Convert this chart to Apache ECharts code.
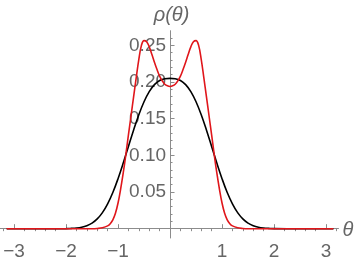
<!DOCTYPE html>
<html>
<head>
<meta charset="utf-8">
<script src="https://cdn.jsdelivr.net/npm/echarts@6/dist/echarts.min.js"></script>
<style>html,body{margin:0;padding:0;background:#fff}#c{width:360px;height:257px}</style>
</head>
<body>
<div id="c"></div>
<script>
// theta samples and densities
const thetaBlack = [-3.1416,-2.5,-2.0,-1.9,-1.8,-1.7,-1.6,-1.5,-1.4,-1.3,-1.2,-1.1,-1.0,-0.9,-0.8,-0.7,-0.6,-0.5,-0.4,-0.3,-0.2,-0.1,0,0.1,0.2,0.3,0.4,0.5,0.6,0.7,0.8,0.9,1.0,1.1,1.2,1.3,1.4,1.5,1.6,1.7,1.8,1.9,2.0,2.5,3.1416];
const rhoBlack = [0,0,0.0001,0.0004,0.0009,0.0020,0.0041,0.0076,0.0133,0.0219,0.0339,0.0493,0.0682,0.0895,0.1122,0.1346,0.1554,0.1731,0.1869,0.1964,0.2021,0.2045,0.2050,0.2045,0.2021,0.1964,0.1869,0.1731,0.1554,0.1346,0.1122,0.0895,0.0682,0.0493,0.0339,0.0219,0.0133,0.0076,0.0041,0.0020,0.0009,0.0004,0.0001,0,0];
const thetaRed = [-3.1416,-2.5,-2.0,-1.5,-1.4,-1.3,-1.2,-1.15,-1.1,-1.05,-1.0,-0.95,-0.9,-0.85,-0.8,-0.75,-0.7,-0.65,-0.6,-0.55,-0.5,-0.45,-0.4,-0.35,-0.3,-0.25,-0.2,-0.15,-0.1,-0.05,0,0.05,0.1,0.15,0.2,0.25,0.3,0.35,0.4,0.45,0.5,0.55,0.6,0.65,0.7,0.75,0.8,0.85,0.9,0.95,1.0,1.05,1.1,1.15,1.2,1.3,1.4,1.5,2.0,2.5,3.1416];
const rhoRed = [0,0,0,0,0.0003,0.0012,0.0038,0.0068,0.012,0.021,0.035,0.054,0.076,0.101,0.128,0.154,0.180,0.206,0.231,0.250,0.2565,0.255,0.248,0.238,0.227,0.217,0.208,0.2015,0.197,0.1948,0.194,0.1948,0.197,0.2015,0.208,0.217,0.227,0.238,0.248,0.255,0.2565,0.250,0.231,0.206,0.180,0.154,0.128,0.101,0.076,0.054,0.035,0.021,0.012,0.0068,0.0038,0.0012,0.0003,0,0,0,0];
const xMajorTicks = [-3,-2,-1,1,2,3];
const yMajorTicks = [0.05,0.10,0.15,0.20,0.25];
const xMinorTicks = [-3.2,-2.8,-2.6,-2.4,-2.2,-1.8,-1.6,-1.4,-1.2,-0.8,-0.6,-0.4,-0.2,0.2,0.4,0.6,0.8,1.2,1.4,1.6,1.8,2.2,2.4,2.6,2.8,3.2];
const yMinorTicks = [0.01,0.02,0.03,0.04,0.06,0.07,0.08,0.09,0.11,0.12,0.13,0.14,0.16,0.17,0.18,0.19,0.21,0.22,0.23,0.24,0.26];
const xTitle = 'θ';
const yTitle = 'ρ(θ)';

const zip = (a,b) => a.map((v,i)=>[v,b[i]]);
const FONT = 'Liberation Sans';
const gray = '#8c8c8c';
const labelColor = '#666666';
const X_MIN = -3.27, X_MAX = 3.24, Y_MIN = -0.0127, Y_MAX = 0.27;
const GRID = {left: 0, right: 21.5, top: 30.7, bottom: 19};
const W = 360, gridW = W - GRID.left - GRID.right;
// place the y axis where theta = 0 (axis offset, negative = inward)
const yOffset = -((0 - X_MIN) / (X_MAX - X_MIN)) * gridW;

const chart = echarts.init(document.getElementById('c'), null, {renderer:'canvas'});
chart.setOption({
  animation: false,
  grid: Object.assign({containLabel: false, outerBoundsMode: 'none'}, GRID),
  xAxis: [{
    type: 'value', min: X_MIN, max: X_MAX,
    axisLine: {onZero: true, onZeroAxisIndex: 0, lineStyle: {color: gray, width: 1}},
    axisTick: {inside: true, length: 4.5, customValues: xMajorTicks, lineStyle: {color: gray}},
    axisLabel: {customValues: xMajorTicks, margin: 4, fontSize: 19, fontFamily: FONT, color: labelColor,
      formatter: v => String(Math.round(v)).replace('-', '\u2212')},
    splitLine: {show: false}
  },{
    type: 'value', min: X_MIN, max: X_MAX,
    axisLine: {show: false, onZero: true, onZeroAxisIndex: 0},
    axisTick: {show: true, inside: true, length: 2.5, customValues: xMinorTicks, lineStyle: {color: gray}},
    axisLabel: {show: false},
    splitLine: {show: false}
  }],
  yAxis: [{
    type: 'value', min: Y_MIN, max: Y_MAX, position: 'left', offset: yOffset,
    axisLine: {onZero: false, lineStyle: {color: gray, width: 1}},
    axisTick: {inside: true, length: 4.5, customValues: yMajorTicks, lineStyle: {color: gray}},
    axisLabel: {customValues: yMajorTicks, margin: 4, fontSize: 19, fontFamily: FONT, color: labelColor,
      formatter: v => v.toFixed(2)},
    splitLine: {show: false}
  },{
    type: 'value', min: Y_MIN, max: Y_MAX, position: 'left', offset: yOffset,
    axisLine: {show: false, onZero: false},
    axisTick: {show: true, inside: true, length: 2.5, customValues: yMinorTicks, lineStyle: {color: gray}},
    axisLabel: {show: false},
    splitLine: {show: false}
  }],
  series: [{
    type: 'line', xAxisIndex: 0, yAxisIndex: 0, data: zip(thetaBlack, rhoBlack),
    showSymbol: false, smooth: 0.4, lineStyle: {color: '#000000', width: 1.6}, z: 3
  },{
    type: 'line', xAxisIndex: 0, yAxisIndex: 0, data: zip(thetaRed, rhoRed),
    showSymbol: false, smooth: 0.4, lineStyle: {color: '#e0161b', width: 1.6}, z: 4
  }]
});

// axis titles positioned from the axes themselves
const origin = chart.convertToPixel({xAxisIndex: 0, yAxisIndex: 0}, [0, 0]);
const xEnd = chart.convertToPixel({xAxisIndex: 0}, X_MAX);
const yEnd = chart.convertToPixel({yAxisIndex: 0}, Y_MAX);
chart.setOption({
  graphic: [{
    type: 'text', left: null, x: xEnd + 4, y: origin[1] + 1.5,
    style: {text: xTitle, font: 'italic 20px "Liberation Sans"', fill: labelColor, textAlign: 'left', textVerticalAlign: 'middle'}
  },{
    type: 'text', x: origin[0] + 1.5, y: yEnd - 15,
    style: {text: yTitle, font: 'italic 20px "Liberation Sans"', fill: labelColor, textAlign: 'center', textVerticalAlign: 'middle'}
  }]
});
</script>
</body>
</html>
